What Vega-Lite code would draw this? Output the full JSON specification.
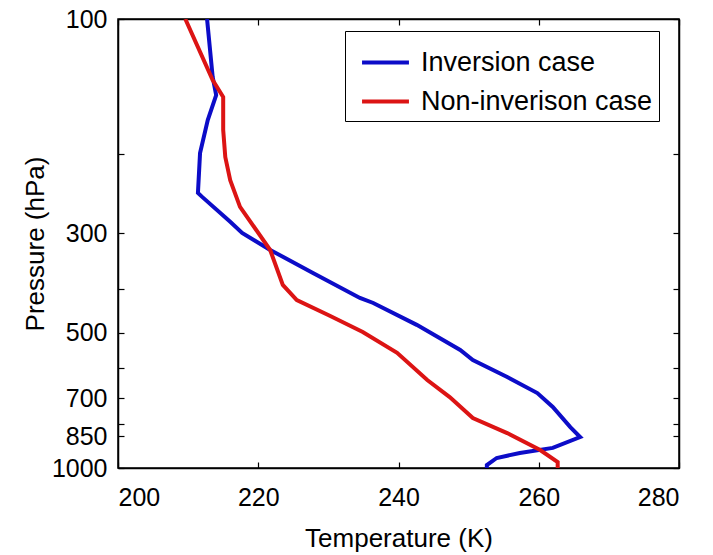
{
  "$schema": "https://vega.github.io/schema/vega-lite/v6.json",
  "width": 561,
  "height": 449,
  "autosize": {"type": "none"},
  "padding": {"left": 118, "top": 19, "right": 34, "bottom": 87},
  "background": "white",
  "config": {
    "font": "Liberation Sans",
    "view": {"stroke": "black", "strokeWidth": 1.5},
    "axis": {
      "grid": false,
      "domainColor": "black",
      "domainWidth": 1.5,
      "tickColor": "black",
      "tickWidth": 1.2,
      "tickSize": -6,
      "labelColor": "black",
      "titleColor": "black",
      "labelFontSize": 25,
      "titleFontSize": 26,
      "titleFontWeight": "normal",
      "labelFont": "Liberation Sans",
      "titleFont": "Liberation Sans"
    }
  },
  "data": {
    "values": [
      {"case": "Inversion case", "i": 0, "temperature": 212.7, "pressure": 100},
      {"case": "Inversion case", "i": 1, "temperature": 213.5, "pressure": 134.6},
      {"case": "Inversion case", "i": 2, "temperature": 214.0, "pressure": 147.7},
      {"case": "Inversion case", "i": 3, "temperature": 212.8, "pressure": 167.9},
      {"case": "Inversion case", "i": 4, "temperature": 211.7, "pressure": 198.9},
      {"case": "Inversion case", "i": 5, "temperature": 211.4, "pressure": 244},
      {"case": "Inversion case", "i": 6, "temperature": 212.0, "pressure": 249},
      {"case": "Inversion case", "i": 7, "temperature": 216.0, "pressure": 283},
      {"case": "Inversion case", "i": 8, "temperature": 217.7, "pressure": 299.6},
      {"case": "Inversion case", "i": 9, "temperature": 221.7, "pressure": 326.8},
      {"case": "Inversion case", "i": 10, "temperature": 227.8, "pressure": 367.9},
      {"case": "Inversion case", "i": 11, "temperature": 234.5, "pressure": 418},
      {"case": "Inversion case", "i": 12, "temperature": 236.4, "pressure": 429},
      {"case": "Inversion case", "i": 13, "temperature": 242.6, "pressure": 480},
      {"case": "Inversion case", "i": 14, "temperature": 248.8, "pressure": 546},
      {"case": "Inversion case", "i": 15, "temperature": 250.6, "pressure": 575},
      {"case": "Inversion case", "i": 16, "temperature": 255.5, "pressure": 627},
      {"case": "Inversion case", "i": 17, "temperature": 259.8, "pressure": 681},
      {"case": "Inversion case", "i": 18, "temperature": 262.0, "pressure": 731},
      {"case": "Inversion case", "i": 19, "temperature": 264.5, "pressure": 811},
      {"case": "Inversion case", "i": 20, "temperature": 265.9, "pressure": 853},
      {"case": "Inversion case", "i": 21, "temperature": 262.0, "pressure": 902},
      {"case": "Inversion case", "i": 22, "temperature": 257.3, "pressure": 926},
      {"case": "Inversion case", "i": 23, "temperature": 254.0, "pressure": 950},
      {"case": "Inversion case", "i": 24, "temperature": 252.6, "pressure": 985},
      {"case": "Inversion case", "i": 25, "temperature": 252.6, "pressure": 1000},
      {"case": "Non-inverison case", "i": 0, "temperature": 209.6, "pressure": 100},
      {"case": "Non-inverison case", "i": 1, "temperature": 213.5, "pressure": 136.7},
      {"case": "Non-inverison case", "i": 2, "temperature": 215.0, "pressure": 149.2},
      {"case": "Non-inverison case", "i": 3, "temperature": 215.0, "pressure": 176.7},
      {"case": "Non-inverison case", "i": 4, "temperature": 215.3, "pressure": 203},
      {"case": "Non-inverison case", "i": 5, "temperature": 216.0, "pressure": 228.5},
      {"case": "Non-inverison case", "i": 6, "temperature": 217.4, "pressure": 262},
      {"case": "Non-inverison case", "i": 7, "temperature": 221.7, "pressure": 327},
      {"case": "Non-inverison case", "i": 8, "temperature": 223.5, "pressure": 391},
      {"case": "Non-inverison case", "i": 9, "temperature": 225.5, "pressure": 422.5},
      {"case": "Non-inverison case", "i": 10, "temperature": 230.2, "pressure": 458},
      {"case": "Non-inverison case", "i": 11, "temperature": 234.9, "pressure": 498},
      {"case": "Non-inverison case", "i": 12, "temperature": 239.8, "pressure": 554},
      {"case": "Non-inverison case", "i": 13, "temperature": 244.1, "pressure": 637},
      {"case": "Non-inverison case", "i": 14, "temperature": 247.3, "pressure": 695},
      {"case": "Non-inverison case", "i": 15, "temperature": 250.6, "pressure": 774},
      {"case": "Non-inverison case", "i": 16, "temperature": 255.5, "pressure": 836},
      {"case": "Non-inverison case", "i": 17, "temperature": 260.2, "pressure": 912},
      {"case": "Non-inverison case", "i": 18, "temperature": 262.7, "pressure": 970},
      {"case": "Non-inverison case", "i": 19, "temperature": 262.7, "pressure": 1000}
    ]
  },
  "layer": [
    {
      "mark": {"type": "line", "strokeWidth": 4, "clip": true},
      "encoding": {
        "x": {
          "field": "temperature", "type": "quantitative",
          "scale": {"domain": [200, 280], "nice": false},
          "axis": {"values": [200, 220, 240, 260, 280], "title": "Temperature (K)", "labelPadding": 23, "titlePadding": 15}
        },
        "y": {
          "field": "pressure", "type": "quantitative",
          "scale": {"type": "log", "domain": [100, 1000], "reverse": true, "nice": false},
          "axis": {
            "values": [100, 200, 300, 400, 500, 600, 700, 800, 850, 1000],
            "format": "d",
            "labelExpr": "indexof([100, 300, 500, 700, 850, 1000], datum.value) >= 0 ? datum.label : ''",
            "title": "Pressure (hPa)",
            "labelPadding": 17,
            "titlePadding": 3
          }
        },
        "color": {
          "field": "case", "type": "nominal",
          "scale": {"domain": ["Inversion case", "Non-inverison case"], "range": ["#0c0cc8", "#dc1414"]},
          "legend": {
            "title": null,
            "orient": "none",
            "legendX": 227,
            "legendY": 12,
            "symbolType": "stroke",
            "symbolSize": 2200,
            "symbolStrokeWidth": 4,
            "symbolOffset": 9,
            "labelFontSize": 27,
            "labelColor": "black",
            "labelLimit": 400,
            "labelOffset": 10,
            "rowPadding": -5,
            "padding": 6,
            "strokeColor": "black",
            "fillColor": "white",
            "cornerRadius": 0
          }
        },
        "order": {"field": "i", "type": "quantitative"}
      }
    },
    {
      "mark": {"type": "point", "opacity": 0},
      "encoding": {
        "x": {
          "field": "temperature", "type": "quantitative",
          "scale": {"domain": [200, 280], "nice": false},
          "axis": {"orient": "top", "values": [200, 220, 240, 260, 280], "labels": false, "title": null}
        },
        "y": {
          "field": "pressure", "type": "quantitative",
          "scale": {"type": "log", "domain": [100, 1000], "reverse": true, "nice": false},
          "axis": {"orient": "right", "values": [100, 200, 300, 400, 500, 600, 700, 800, 850, 1000], "labels": false, "title": null}
        }
      }
    }
  ],
  "resolve": {"scale": {"x": "independent", "y": "independent"}}
}
